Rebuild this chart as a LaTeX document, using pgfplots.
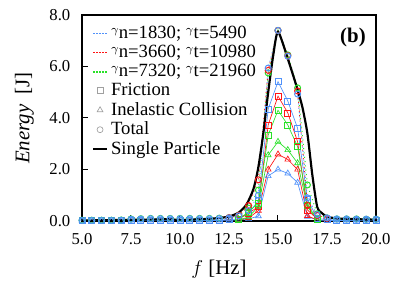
\documentclass[border=0pt]{standalone}
\usepackage{pgfplots}
\pgfplotsset{compat=1.18}
\usepackage{fontspec}
\setmainfont{Liberation Serif}
\definecolor{cB}{RGB}{80,145,250}
\definecolor{cR}{RGB}{255,20,20}
\definecolor{cG}{RGB}{40,225,40}
\definecolor{cK}{RGB}{160,160,160}
\newcommand{\gm}{\raisebox{0.55ex}{\fontsize{7}{7}\selectfont$\gamma$}}
\begin{document}
\begin{tikzpicture}
\begin{axis}[
  scale only axis, width=176.4pt, height=123.6pt,
  xmin=5, xmax=20, ymin=0, ymax=8,
  xtick={5,7.5,...,20}, ytick={0,2,4,6,8},
  /pgf/number format/assume math mode=true,
  tick label style={font=\fontsize{10}{11}\selectfont, black},
  xticklabel style={yshift=-4pt, /pgf/number format/.cd,fixed,fixed zerofill,precision=1},
  yticklabel style={xshift=-3.5pt, /pgf/number format/.cd,fixed,fixed zerofill,precision=1},
  tick align=inside, xtick pos=bottom, ytick pos=left,
  major tick length=3.5pt,
  axis line style={black, line width=0.7pt},
  tick style={black, line width=0.6pt},
  xlabel={$f$ [Hz]}, ylabel={\textit{Energy}\ \ [J]},
  label style={font=\fontsize{12.5}{14}\selectfont},
  xlabel style={yshift=-2.5pt, xshift=-6pt},
  ylabel style={yshift=2.5pt},
  legend style={draw=none, fill=none, at={(0.034,0.964)}, anchor=north west,
    font=\fontsize{11.2}{12}\selectfont, row sep=-1.5pt, inner sep=0pt},
  legend cell align=left,
  legend image code/.code={\draw[mark repeat=2,mark phase=2,#1] plot coordinates {(0cm,0cm)(0.14cm,0cm)(0.28cm,0cm)};},
]
\addlegendimage{cB, dash pattern=on 0.9pt off 0.9pt, line width=1.1pt}
\addlegendentry{\gm n=1830; \gm t=5490}
\addlegendimage{cR, dash pattern=on 0.9pt off 0.9pt, line width=1pt}
\addlegendentry{\gm n=3660; \gm t=10980}
\addlegendimage{cG, dash pattern=on 0.9pt off 0.9pt, line width=1pt}
\addlegendentry{\gm n=7320; \gm t=21960}
\addlegendimage{only marks, mark=square, cK, mark size=1.8pt}
\addlegendentry{Friction}
\addlegendimage{only marks, mark=triangle, cK, mark size=2pt}
\addlegendentry{Inelastic Collision}
\addlegendimage{only marks, mark=o, cK, mark size=1.8pt}
\addlegendentry{Total}
\addlegendimage{black, line width=1.3pt}
\addlegendentry{Single Particle}

% Inelastic collision (triangles)
\addplot[cB, line width=0.4pt, mark=triangle, mark size=2pt, forget plot] coordinates {
(5,0.01)(5.5,0.01)(6,0.01)(6.5,0.01)(7,0.01)(7.5,0.02)(8,0.02)(8.5,0.02)(9,0.02)(9.5,0.02)(10,0.02)(10.5,0.02)(11,0.02)(11.5,0.02)(12,0.02)(12.5,0.03)(13,0.04)(13.5,0.08)(14,0.19)(14.5,1.75)(15,2.0)(15.5,1.85)(16,1.49)(16.5,0.17)(17,0.04)(17.5,0.02)(18,0.02)(18.5,0.02)(19,0.02)(19.5,0.02)(20,0.02)};
\addplot[cR, line width=0.4pt, mark=triangle, mark size=2pt, forget plot] coordinates {
(13,0.04)(13.5,0.12)(14,0.4)(14.5,2.0)(15,2.59)(15.5,2.39)(16,2.0)(16.5,0.2)(17,0.04)};
\addplot[cG, line width=0.4pt, mark=triangle, mark size=2pt, forget plot] coordinates {
(13,0.05)(13.5,0.15)(14,0.56)(14.5,2.56)(15,3.08)(15.5,2.76)(16,2.25)(16.5,0.56)(17,0.05)};

% Friction (squares)
\addplot[cB, line width=0.4pt, mark=square, mark size=1.8pt, forget plot] coordinates {
(5,0.02)(5.5,0.02)(6,0.02)(6.5,0.02)(7,0.02)(7.5,0.03)(8,0.03)(8.5,0.03)(9,0.03)(9.5,0.03)(10,0.03)(10.5,0.03)(11,0.03)(11.5,0.03)(12,0.04)(12.5,0.05)(13,0.08)(13.5,0.3)(14,0.79)(14.5,4.35)(15,5.41)(15.5,4.66)(16,3.6)(16.5,0.85)(17,0.1)(17.5,0.05)(18,0.04)(18.5,0.04)(19,0.04)(19.5,0.04)(20,0.04)};
\addplot[cR, line width=0.4pt, mark=square, mark size=1.8pt, forget plot] coordinates {
(13,0.08)(13.5,0.3)(14,0.56)(14.5,3.73)(15,4.85)(15.5,4.2)(16,3.08)(16.5,0.43)(17,0.08)};
\addplot[cG, line width=0.4pt, mark=square, mark size=1.8pt, forget plot] coordinates {
(13,0.08)(13.5,0.35)(14,0.7)(14.5,3.34)(15,4.3)(15.5,3.73)(16,2.89)(16.5,0.62)(17,0.08)};

% Total (circles, dotted)
\addplot[cG, dotted, line width=0.6pt, mark=o, mark size=1.8pt, mark options={solid}, forget plot] coordinates {
(5,0.03)(5.5,0.03)(6,0.03)(6.5,0.03)(7,0.04)(7.5,0.08)(8,0.09)(8.5,0.1)(9,0.1)(9.5,0.1)(10,0.1)(10.5,0.1)(11,0.1)(11.5,0.1)(12,0.11)(12.5,0.13)(13,0.22)(13.5,0.5)(14,1.2)(14.5,5.75)(15,7.4)(15.5,6.45)(16,5.17)(16.5,1.4)(17,0.28)(17.5,0.12)(18,0.08)(18.5,0.08)(19,0.08)(19.5,0.07)(20,0.07)};
\addplot[cR, dotted, line width=0.6pt, mark=o, mark size=1.8pt, mark options={solid}, forget plot] coordinates {
(12.5,0.13)(13,0.22)(13.5,0.6)(14,1.6)(14.5,5.85)(15,7.4)(15.5,6.42)(16,5.05)(16.5,0.6)(17,0.22)(17.5,0.1)};
\addplot[cB, dotted, line width=0.6pt, mark=o, mark size=1.8pt, mark options={solid}, forget plot] coordinates {
(5,0.02)(5.5,0.02)(6,0.02)(6.5,0.02)(7,0.03)(7.5,0.07)(8,0.08)(8.5,0.09)(9,0.09)(9.5,0.09)(10,0.09)(10.5,0.09)(11,0.09)(11.5,0.09)(12,0.1)(12.5,0.12)(13,0.2)(13.5,0.4)(14,1.0)(14.5,5.94)(15,7.4)(15.5,6.4)(16,4.93)(16.5,0.9)(17,0.25)(17.5,0.12)(18,0.08)(18.5,0.08)(19,0.07)(19.5,0.07)(20,0.07)};

% Single particle
\addplot[black, line width=1.3pt, smooth, tension=0.4, forget plot] coordinates {
(5,0.02)(6,0.03)(7,0.04)(8,0.05)(9,0.06)(9.5,0.07)(10,0.03)(10.5,0.05)(11,0.07)(11.5,0.08)(12,0.12)(12.5,0.17)(13,0.33)(13.4,0.65)(13.75,1.25)(14.0,2.1)(14.25,3.4)(14.5,5.0)(14.75,6.4)(15.0,7.35)(15.5,6.3)(16.0,5.1)(16.25,4.4)(16.5,3.4)(16.75,1.8)(17.0,0.55)(17.25,0.3)(17.5,0.17)(18,0.1)(19,0.07)(20,0.05)};

\node[anchor=north east, font=\bfseries\fontsize{12.5}{14}\selectfont] at (rel axis cs:0.985,0.965) {(b)};
\end{axis}
\pgfresetboundingbox
\useasboundingbox (-49.2pt,-40.2pt) rectangle (195pt,132.6pt);
\end{tikzpicture}
\end{document}
